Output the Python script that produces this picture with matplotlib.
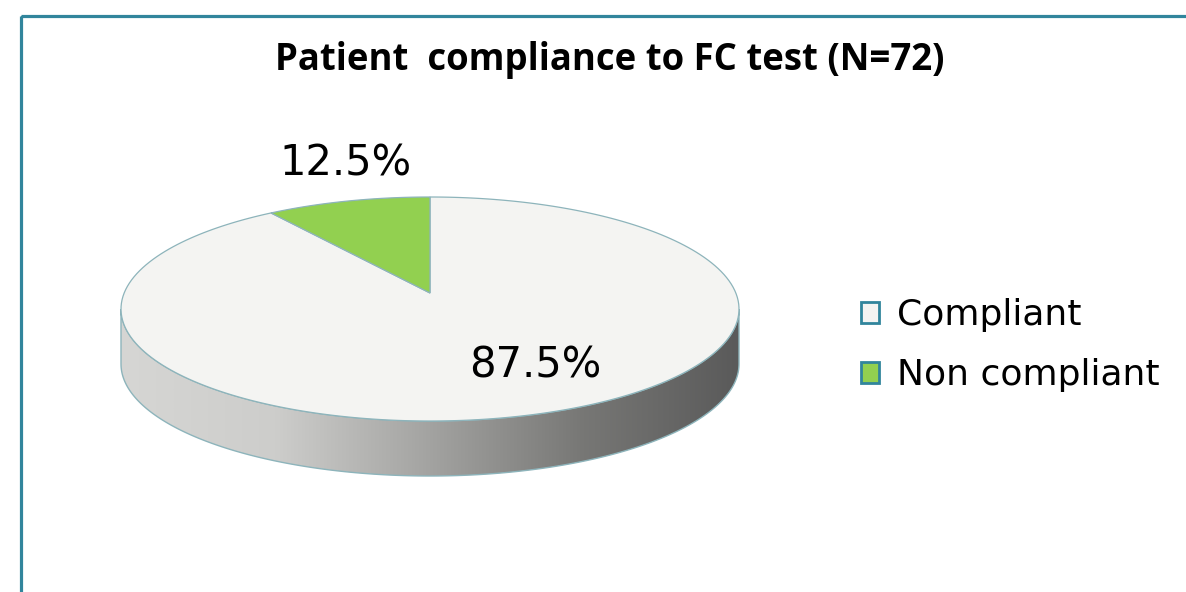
import numpy as np
import matplotlib

matplotlib.use("Agg")
import matplotlib.pyplot as plt
from matplotlib.colors import LinearSegmentedColormap
from matplotlib.patches import Patch, Polygon, Rectangle

categories = ["Compliant", "Non compliant"]
shares = [87.5, 12.5]
share_labels = ["87.5%", "12.5%"]
title = "Patient  compliance to FC test (N=72)"

FRAME = "#31859c"
TOP = "#f4f4f2"
GREEN = "#92d050"
EDGE = "#8db4bb"
slice_colors = [TOP, GREEN]

# pie geometry, in pixels (axes == figure, 1 unit = 1 px)
cx, cy, a, b = 430, 309, 309, 112
apex = (430, 293)
depth = 55
squash = 0.6  # foreshortening of slice angles from the 3D tilt


def rim(phi_deg):
    # phi: clockwise angle from 12 o'clock
    phi = np.radians(phi_deg)
    t = np.unwrap(np.arctan2(squash * np.sin(phi), np.cos(phi)))
    return cx + a * np.sin(t), cy - b * np.cos(t)


fig = plt.figure(figsize=(11.86, 5.92), dpi=100)
ax = fig.add_axes([0, 0, 1, 1])
ax.set_xlim(0, 1186)
ax.set_ylim(592, 0)
ax.axis("off")

# outer frame
ax.add_patch(Rectangle((21, 16), 1200, 620, fill=False, edgecolor=FRAME, lw=2.3, zorder=0))

# side of the disc with a grey gradient
s = np.linspace(np.pi, 0, 200)
top_x, top_y = cx + a * np.cos(s), cy + b * np.sin(s)
side = np.concatenate([np.column_stack([top_x, top_y]),
                       np.column_stack([top_x[::-1], top_y[::-1] + depth])])
side_patch = Polygon(side, closed=True, facecolor="none", edgecolor=EDGE, lw=1, zorder=2)
ax.add_patch(side_patch)
grey = LinearSegmentedColormap.from_list(
    "side", [(0.0, "#d6d6d4"), (0.25, "#cdcdcb"), (0.5, "#a3a3a1"),
             (0.75, "#777775"), (1.0, "#5a5a5a")])
grad = ax.imshow(np.linspace(0, 1, 256)[None, :], cmap=grey, aspect="auto",
                 extent=[cx - a, cx + a, cy + b + depth + 5, cy - 5],
                 interpolation="bilinear", zorder=1)
grad.set_clip_path(side_patch)

# top face slices: compliant goes clockwise from 12 o'clock
bounds = np.concatenate([[0], np.cumsum(shares)]) / np.sum(shares) * 360
for i in range(len(shares)):
    xs, ys = rim(np.linspace(bounds[i], bounds[i + 1], 300))
    pts = np.vstack([[apex], np.column_stack([xs, ys])])
    ax.add_patch(Polygon(pts, closed=True, facecolor=slice_colors[i],
                         edgecolor=EDGE, lw=0.9, zorder=3))

label_pos = [(535, 366), (345, 163)]
for lab, (lx, ly) in zip(share_labels, label_pos):
    ax.text(lx, ly, lab, ha="center", va="center", fontsize=30,
            family="DejaVu Sans", color="black", zorder=5)

ax.text(610, 60, title, ha="center", va="center", fontsize=26.3,
        family="Open Sans", fontweight="bold", color="black")

handles = [Patch(facecolor=c, edgecolor=FRAME, lw=2) for c in slice_colors]
ax.legend(handles, categories, loc="upper left", bbox_to_anchor=(843, 280),
          bbox_transform=ax.transData, frameon=False, borderpad=0,
          handlelength=0.5, handleheight=0.5, handletextpad=0.5,
          labelspacing=0.72, prop={"family": "DejaVu Sans", "size": 26})

fig.savefig("out.png", dpi=100)
